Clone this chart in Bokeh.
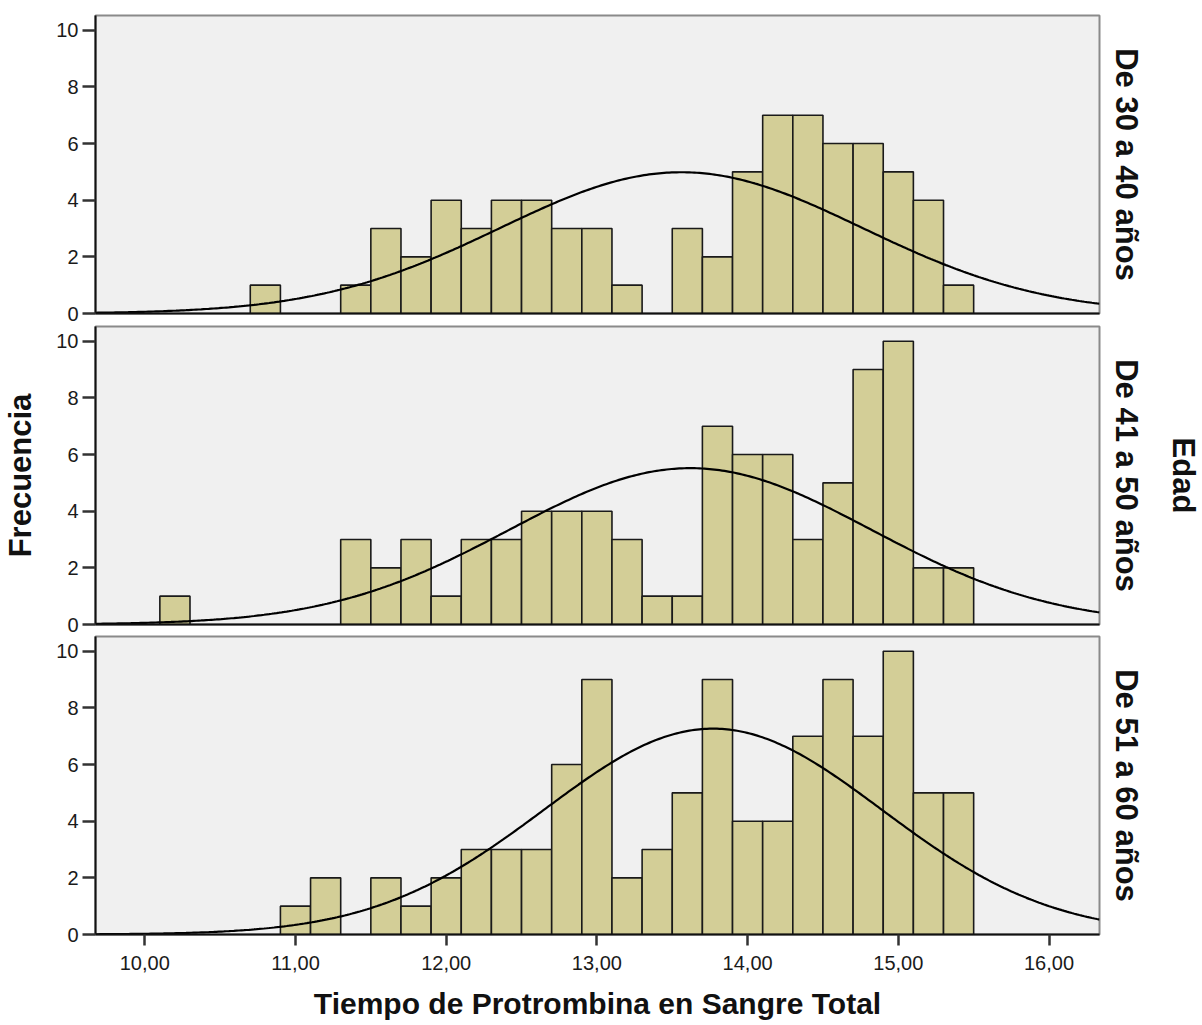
import numpy as np
from bokeh.plotting import figure
from bokeh.layouts import column
from bokeh.models import Range1d, FixedTicker, LinearAxis, CustomJSTickFormatter, ColumnDataSource
from bokeh.embed import file_html
from bokeh.resources import INLINE

# ---- data ----
bin_width = 0.2
bin_starts = [10.1, 10.3, 10.5, 10.7, 10.9, 11.1, 11.3, 11.5, 11.7, 11.9, 12.1, 12.3, 12.5, 12.7,
              12.9, 13.1, 13.3, 13.5, 13.7, 13.9, 14.1, 14.3, 14.5, 14.7, 14.9, 15.1, 15.3]
panel_labels = ["De 30 a 40 años", "De 41 a 50 años", "De 51 a 60 años"]
counts_30_40 = [0, 0, 0, 1, 0, 0, 1, 3, 2, 4, 3, 4, 4, 3, 3, 1, 0, 3, 2, 5, 7, 7, 6, 6, 5, 4, 1]
counts_41_50 = [1, 0, 0, 0, 0, 0, 3, 2, 3, 1, 3, 3, 4, 4, 4, 3, 1, 1, 7, 6, 6, 3, 5, 9, 10, 2, 2]
counts_51_60 = [0, 0, 0, 0, 1, 2, 0, 2, 1, 2, 3, 3, 3, 6, 9, 2, 3, 5, 9, 4, 4, 7, 9, 7, 10, 5, 5]
curve_means = [13.56, 13.62, 13.77]
curve_sds = [1.20, 1.20, 1.12]
curve_ns = [75, 83, 102]
x_ticks = [10, 11, 12, 13, 14, 15, 16]
y_ticks = [0, 2, 4, 6, 8, 10]
x_title = "Tiempo de Protrombina en Sangre Total"
y_title = "Frecuencia"
facet_title = "Edad"

all_counts = [counts_30_40, counts_41_50, counts_51_60]

FONT = "Liberation Sans"
BG = "#f0f0f0"
BAR = "#d3ce97"

borders = [(15, 12), (1, 11), (1, 91)]

figs = []
for i in range(3):
    top_b, bot_b = borders[i]
    p = figure(frame_width=1004, frame_height=298, output_backend="svg", toolbar_location=None,
               x_range=Range1d(9.673, 16.335), y_range=Range1d(0, 10.52),
               min_border_left=95, min_border_right=103, min_border_top=top_b, min_border_bottom=bot_b,
               background_fill_color=BG, border_fill_color="white")
    p.grid.visible = False
    p.outline_line_color = "#8a8a8a"
    p.outline_line_width = 2

    counts = all_counts[i]
    lefts = [s for s, c in zip(bin_starts, counts) if c > 0]
    rights = [s + bin_width for s, c in zip(bin_starts, counts) if c > 0]
    tops = [c for c in counts if c > 0]
    src = ColumnDataSource(dict(left=lefts, right=rights, top=tops, bottom=[0] * len(tops)))
    p.quad(left="left", right="right", top="top", bottom="bottom", source=src,
           fill_color=BAR, line_color="#1a1a1a", line_width=1.6)

    xs = np.linspace(9.673, 16.335, 400)
    m, s, n = curve_means[i], curve_sds[i], curve_ns[i]
    ys = n * bin_width / (s * np.sqrt(2 * np.pi)) * np.exp(-0.5 * ((xs - m) / s) ** 2)
    p.line(xs, ys, line_color="black", line_width=2.2)

    # y axis
    ya = p.yaxis[0]
    ya.ticker = FixedTicker(ticks=y_ticks)
    ya.minor_tick_line_color = None
    ya.major_tick_out = 13
    ya.major_tick_in = 0
    ya.major_tick_line_width = 2.5
    ya.major_tick_line_color = "#333333"
    ya.axis_line_color = "#111111"
    ya.axis_line_width = 2
    ya.major_label_standoff = 4
    ya.major_label_text_font = FONT
    ya.major_label_text_font_size = "20px"
    ya.major_label_text_color = "#1a1a1a"
    if i == 1:
        ya.axis_label = y_title
        ya.axis_label_text_font = FONT
        ya.axis_label_text_font_style = "bold"
        ya.axis_label_text_font_size = "31px"
        ya.axis_label_text_color = "#111111"
        ya.axis_label_standoff = 15

    # x axis
    xa = p.xaxis[0]
    xa.axis_line_color = "#111111"
    xa.axis_line_width = 2
    xa.minor_tick_line_color = None
    if i == 2:
        xa.ticker = FixedTicker(ticks=x_ticks)
        xa.formatter = CustomJSTickFormatter(code="return tick.toFixed(2).replace('.', ',');")
        xa.major_tick_out = 11
        xa.major_tick_in = 0
        xa.major_tick_line_width = 2.5
        xa.major_tick_line_color = "#333333"
        xa.major_label_standoff = 10
        xa.major_label_text_font = FONT
        xa.major_label_text_font_size = "20px"
        xa.major_label_text_color = "#1a1a1a"
        xa.axis_label = x_title
        xa.axis_label_text_font = FONT
        xa.axis_label_text_font_style = "bold"
        xa.axis_label_text_font_size = "30px"
        xa.axis_label_text_color = "#111111"
        xa.axis_label_standoff = 14
    else:
        xa.ticker = FixedTicker(ticks=[])
        xa.major_tick_out = 0
        xa.major_tick_in = 0

    # right-side panel label
    ra = LinearAxis(ticker=FixedTicker(ticks=[]), axis_line_color=None, major_tick_out=0, major_tick_in=0,
                    minor_tick_out=0, minor_tick_in=0, major_label_standoff=0,
                    axis_label=panel_labels[i], axis_label_text_font=FONT,
                    axis_label_text_font_style="bold", axis_label_text_font_size="31px",
                    axis_label_text_color="#111111", axis_label_standoff=9)
    p.add_layout(ra, "right")
    if i == 1:
        ea = LinearAxis(ticker=FixedTicker(ticks=[]), axis_line_color=None, major_tick_out=0, major_tick_in=0,
                        minor_tick_out=0, minor_tick_in=0, major_label_standoff=0,
                        axis_label=facet_title, axis_label_text_font=FONT,
                        axis_label_text_font_style="bold", axis_label_text_font_size="31px",
                        axis_label_text_color="#111111", axis_label_standoff=19)
        p.add_layout(ea, "right")
    figs.append(p)

layout = column(*figs, spacing=0)
open("out.html", "w").write(file_html(layout, INLINE))
